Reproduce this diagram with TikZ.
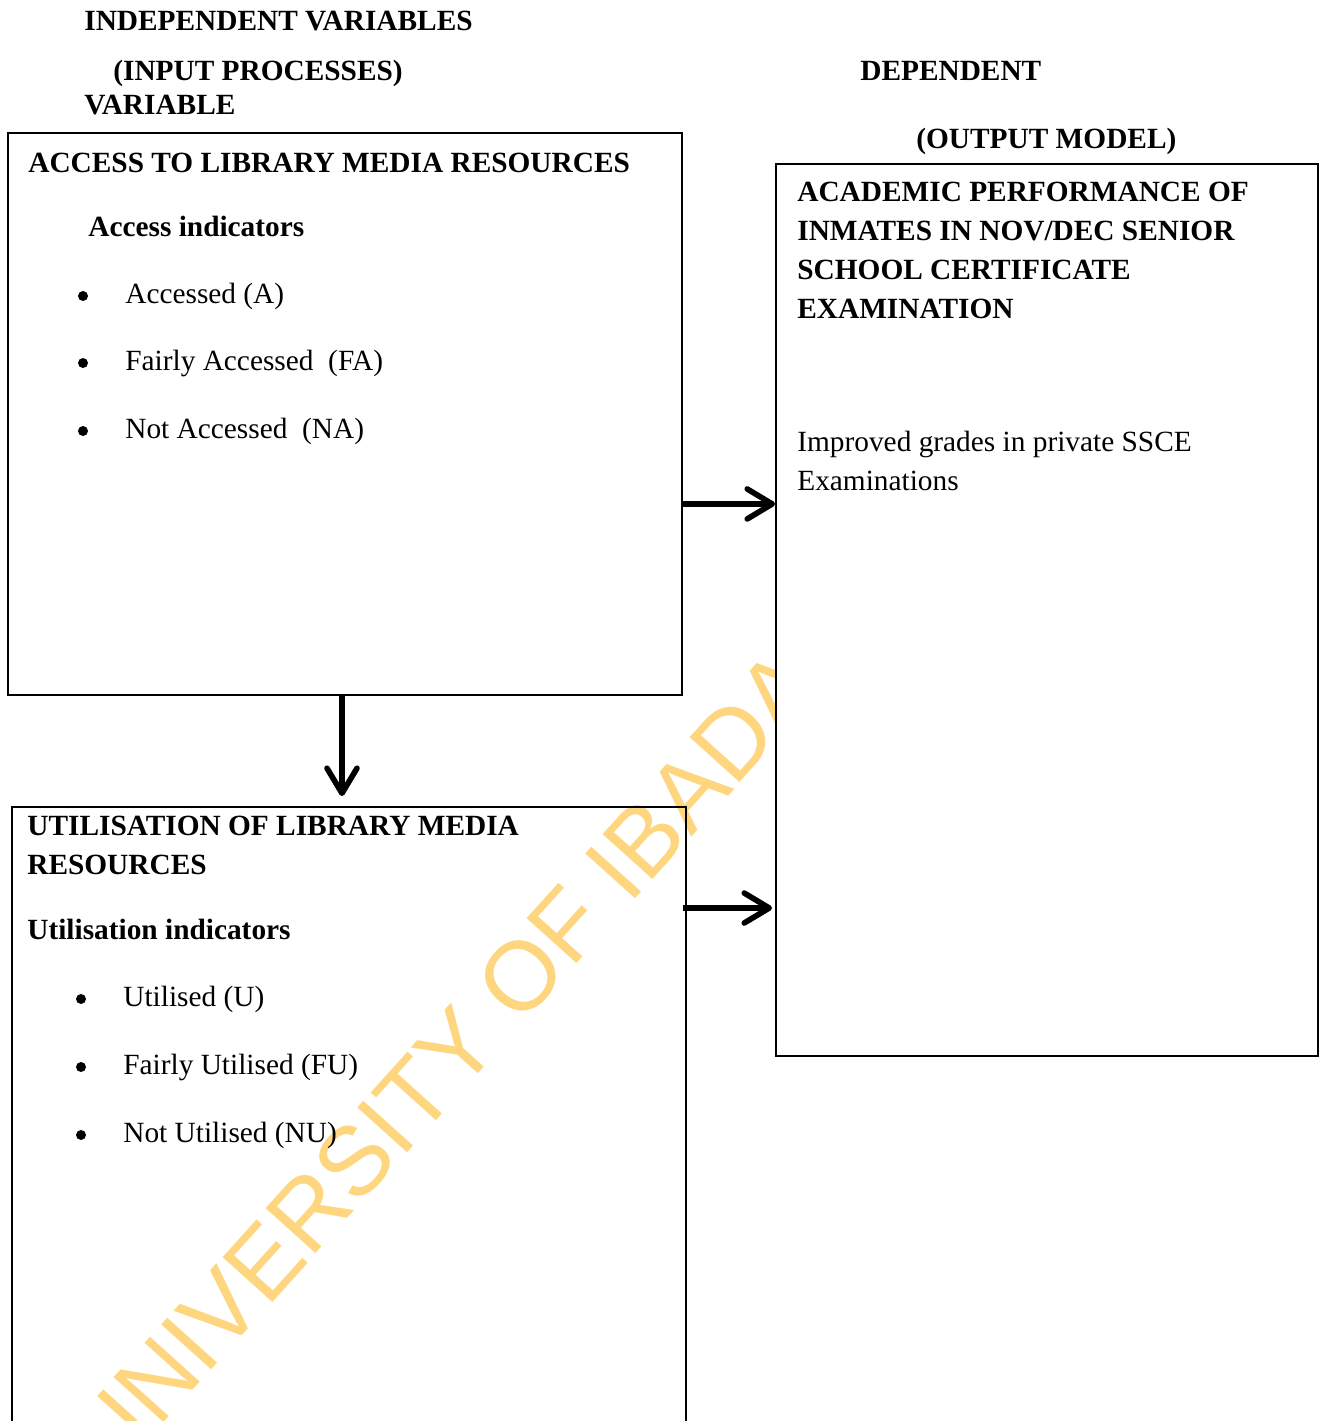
\documentclass[tikz,border=0pt]{standalone}
\usepackage{fontspec}
\setmainfont{Liberation Serif}
\newfontfamily\wmfont{Liberation Sans}
\usetikzlibrary{arrows.meta,fit,calc}
\definecolor{wmorange}{RGB}{255,214,128}
\newcommand{\bodysize}{\fontsize{16.7}{22}\selectfont}
\tikzset{frame/.style={draw, line width=1.1pt, inner sep=0pt},
  head/.style={anchor=base west, inner sep=0pt, font=\bodysize\bfseries},
  item/.style={anchor=base west, inner sep=0pt, font=\bodysize},
  dot/.style={circle, fill=black, inner sep=0pt, minimum size=0.2cm},
  link/.style={line width=3.2pt, -{Straight Barb[length=5mm,width=6mm,round]}}}

\begin{document}
\begin{tikzpicture}[x=0.02cm, y=-0.02cm]
\useasboundingbox (0,0) rectangle (1320,1421);
\clip (0,0) rectangle (1320,1421);

% watermark
\node[rotate=48, text=wmorange, inner sep=0pt, font=\wmfont\fontsize{55.5}{60}\selectfont] (wm) at (467,1036) {UNIVERSITY OF IBADAN};

% boxes
\node[frame, fit={(8,133) (682,695)}] (access) {};
\node[frame, fill=white, fit={(776,164) (1318,1056)}] (output) {};
\node[frame, fit={(12,807) (686,1500)}] (util) {};

% headings
\node[head] (indep) at (84,30) {INDEPENDENT VARIABLES};
\node[head] (inproc) at (113,80) {(INPUT PROCESSES)};
\node[head] (indvar) at (84,114) {VARIABLE};
\node[head] (dep) at (860,80) {DEPENDENT};
\node[head] (outmod) at (916,148) {(OUTPUT MODEL)};

% access box
\node[head] (acctitle) at (28,172) {ACCESS TO LIBRARY MEDIA RESOURCES};
\node[head] (accind) at (88,236) {Access indicators};
\foreach \y/\txt [count=\i] in {303/Accessed (A), 370/Fairly Accessed~ (FA), 438/Not Accessed~ (NA)} {
  \node[dot] (adot\i) at (83,\y-7) {};
  \node[item] (acc\i) at (125,\y) {\txt};
}

% output box
\node[head] (perf1) at (797,201) {ACADEMIC PERFORMANCE OF};
\node[head] (perf2) at (797,240) {INMATES IN NOV/DEC SENIOR};
\node[head] (perf3) at (797,279) {SCHOOL CERTIFICATE};
\node[head] (perf4) at (797,318) {EXAMINATION};
\node[item] (grade1) at (797,451) {Improved grades in private SSCE};
\node[item] (grade2) at (797,490) {Examinations};

% utilisation box
\node[head] (utiltitle1) at (27,835) {UTILISATION OF LIBRARY MEDIA};
\node[head] (utiltitle2) at (27,874) {RESOURCES};
\node[head] (utilind) at (27,939) {Utilisation indicators};
\foreach \y/\txt [count=\i] in {1006/Utilised (U), 1074/Fairly Utilised (FU), 1142/Not Utilised (NU)} {
  \node[dot] (udot\i) at (81,\y-7) {};
  \node[item] (use\i) at (123,\y) {\txt};
}

% arrows
\coordinate (a1) at ([yshift=-7.44cm]access.north east);
\draw[link] (a1) -- (a1 -| output.west);
\draw[link] ([xshift=-0.06cm]access.south) -- ($(access.south |- util.north)+(-3,-10)$);
\coordinate (a3) at ([yshift=-2.04cm,xshift=-0.08cm]util.north east);
\draw[link] (a3) -- ([xshift=-0.06cm]a3 -| output.west);

\end{tikzpicture}
\end{document}
